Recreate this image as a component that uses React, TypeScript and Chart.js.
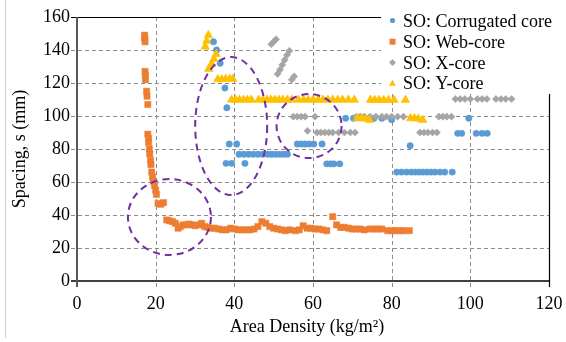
import React, { useEffect, useRef } from "react";
import { Chart, registerables } from "chart.js";

Chart.register(...registerables);

const FONT = '"Liberation Serif", "Times New Roman", serif';

// ---------- data ----------
const xTicks = [0, 20, 40, 60, 80, 100, 120];
const yTicks = [0, 20, 40, 60, 80, 100, 120, 140, 160];

const seriesLabels = ["SO: Corrugated core", "SO: Web-core", "SO: X-core", "SO: Y-core"];
const seriesColors = ["#5B9BD5", "#ED7D31", "#A5A5A5", "#FFC000"];

const corrugatedCore: [number, number][] = [
  [34.7, 145], [35.5, 140], [36.4, 132], [37.6, 117], [38.1, 105],
  [38.7, 83], [40.6, 83],
  [37.9, 71.3], [39.3, 71.3], [42.7, 71.3],
  [41.2, 76.8], [42.4, 76.8], [43.6, 76.8], [44.8, 76.8], [46.0, 76.8], [47.2, 76.8],
  [48.5, 76.8], [49.5, 76.8], [50.5, 76.8], [51.5, 76.8], [52.5, 76.8], [53.5, 76.8],
  [56.0, 83], [57.0, 83], [58.0, 83], [59.0, 83], [60.2, 83], [62.3, 83],
  [63.5, 71], [64.5, 71], [65.3, 71], [66.8, 71],
  [68.3, 98.6], [70.3, 98.6], [75.5, 98.6], [77.5, 98.6], [80.0, 97.8],
  [84.7, 82],
  [81.3, 66], [82.5, 66], [83.8, 66], [85.0, 66], [86.0, 66], [87.0, 66], [88.0, 66],
  [89.0, 66], [90.0, 66], [91.0, 66], [92.3, 66], [93.5, 66], [95.4, 66],
  [99.6, 98.6],
  [96.8, 89.5], [97.8, 89.5], [101.5, 89.5], [103.0, 89.5], [104.3, 89.5],
];

const webCore: [number, number][] = [
  [17.2, 149], [17.2, 147], [17.3, 145],
  [17.3, 127], [17.4, 124.5], [17.4, 122],
  [17.7, 115], [17.8, 112], [18.0, 107],
  [18.0, 89], [18.2, 86.5], [18.2, 84],
  [18.4, 80], [18.5, 77],
  [18.7, 73], [18.8, 70.5],
  [19.0, 66], [19.2, 63], [19.4, 60.5],
  [19.7, 58], [20.0, 55], [20.2, 52.5],
  [20.6, 47], [21.3, 46.5], [22.0, 47.5],
  [22.8, 37], [23.5, 36.5], [24.3, 36], [25.0, 35], [25.7, 32], [26.3, 33], [27.0, 34],
  [27.8, 34], [28.5, 34.5], [29.3, 34], [30.0, 33.5],
  [31.0, 34], [31.7, 35], [32.5, 33], [33.3, 32.5], [34.0, 32],
  [35.0, 32], [36.0, 31.5], [37.0, 31], [38.0, 31], [39.0, 32], [40.0, 31.5],
  [41, 31], [42, 31], [43, 31], [44, 31], [45, 31.5], [46, 33], [47, 36], [48, 35],
  [49, 33], [50, 32], [51, 31.5], [52, 31], [53, 30.5], [54, 31],
  [55.5, 30.5], [56.5, 31], [57.5, 33.5], [58.5, 32], [59.5, 32], [60.5, 31.5],
  [61.5, 31.5], [62.5, 31], [63.5, 30.5],
  [65, 39], [66, 34], [67, 32.5], [68, 32.5], [69, 32], [70, 31.5], [71, 31.5],
  [72, 31.5], [73, 31],
  [74.5, 31.5], [75.5, 31.5], [76.5, 31.5], [77.5, 31.5],
  [79, 30.5], [80, 30.5], [81, 30.5], [82, 30.5], [83, 30.5], [84.5, 30.5],
];

const xCore: [number, number][] = [
  [49.4, 143.5], [50.0, 145], [50.6, 146.5],
  [51.0, 125.5], [51.6, 128], [52.2, 131], [52.8, 134], [53.4, 137], [54.0, 139.5],
  [54.6, 122], [55.2, 124],
  [55, 99.6], [56, 99.6], [57, 99.6], [58, 99.6], [60.5, 99.6],
  [58.6, 91], [61, 90], [62, 90], [63, 90], [64, 90], [65, 90], [66.5, 90], [68, 90],
  [69.5, 90], [70.7, 90],
  [71, 99.6], [72, 99.6], [73, 99.6], [74.5, 99.6], [76, 99.6], [77.5, 99.6],
  [78.7, 99.6], [80, 99.6], [81.5, 99.6], [83, 99.6],
  [92, 99.6], [93, 99.6], [94, 99.6], [95.2, 99.6],
  [87.2, 90], [88.2, 90], [89.2, 90], [90.4, 90], [91.5, 90],
  [96.2, 110.3], [97.4, 110.3], [98.6, 110.3], [100, 110.3], [101.8, 110.3], [103, 110.3],
  [104.2, 110.3], [106.5, 110.3], [107.8, 110.3], [109, 110.3], [110.5, 110.3],
];

const yCore: [number, number][] = [
  [32.6, 142], [33.0, 145.5], [33.4, 149],
  [33.5, 128.5], [34.2, 131.5], [34.8, 134.5], [35.4, 137.5],
  [35.8, 122.2], [36.8, 122.2], [37.8, 122.5], [38.8, 122.5], [39.6, 122.5],
  [39.3, 109.8], [40.3, 109.8], [41.3, 109.8], [42.3, 109.8], [43.3, 109.8], [44.3, 109.8],
  [46.2, 109.8], [47.3, 109.8], [48.3, 109.8], [49.3, 109.8], [50.3, 109.8], [51.3, 109.8],
  [52.3, 109.8], [53.5, 109.8], [54.6, 109.8],
  [56.3, 109.8], [57.6, 109.8], [58.8, 109.8], [60.0, 109.8], [61.3, 109.8], [62.5, 109.8],
  [63.8, 109.8], [65.0, 109.8], [66.3, 109.8], [67.5, 109.8], [69.0, 109.8], [70.5, 109.8],
  [74.6, 109.7], [75.7, 109.7], [76.8, 109.7], [78.0, 109.7], [79.2, 109.7], [80.6, 109.7],
  [83.5, 109.7],
  [71.2, 98.6], [72.3, 98.6], [73.4, 98.4], [74.4, 97.6],
  [84.8, 98.6], [85.8, 98.6], [86.8, 98.4], [87.9, 97.6],
];

// dashed ellipse annotations (centre and radii in data units)
const ellipseCx = [23.5, 39.2, 59.0];
const ellipseCy = [38.8, 93.9, 93.9];
const ellipseRx = [10.55, 9.15, 8.26];
const ellipseRy = [23.0, 41.8, 19.4];

const toPoints = (arr: [number, number][]) => arr.map(([x, y]) => ({ x, y }));

const framePlugin = {
  id: "frame",
  beforeDatasetsDraw(chart: any) {
    const { ctx, chartArea: a, scales } = chart;
    const xs = scales.x;
    const ys = scales.y;
    const line = (x1: number, y1: number, x2: number, y2: number) => {
      ctx.beginPath();
      ctx.moveTo(x1, y1);
      ctx.lineTo(x2, y2);
      ctx.stroke();
    };
    ctx.save();
    // outer frame line
    ctx.strokeStyle = "#d0d0d0";
    ctx.lineWidth = 1;
    line(5.5, 0, 5.5, 338);
    // grid
    ctx.strokeStyle = "#8c8c8c";
    ctx.lineWidth = 1;
    ctx.setLineDash([4, 3]);
    for (const v of yTicks) {
      if (v <= 0 || v >= 160) continue;
      const py = Math.round(ys.getPixelForValue(v)) + 0.5;
      line(a.left - 6, py, a.right, py);
    }
    for (const v of xTicks) {
      if (v <= 0 || v >= 120) continue;
      const px = Math.round(xs.getPixelForValue(v)) + 0.5;
      line(px, a.top, px, a.bottom + 6);
    }
    ctx.setLineDash([]);
    // top and right borders
    ctx.strokeStyle = "#000";
    ctx.lineWidth = 1.2;
    const top = Math.round(a.top) + 0.5;
    const right = Math.round(a.right) + 0.5;
    line(a.left - 6, top, a.right, top);
    line(right, a.top, right, a.bottom + 6);
    // x axis
    ctx.lineWidth = 1.5;
    line(a.left - 6, a.bottom, a.right, a.bottom);
    // y axis
    ctx.strokeStyle = "#595959";
    ctx.lineWidth = 2;
    line(a.left, a.top, a.left, a.bottom + 6);
    // legend background
    ctx.fillStyle = "#ffffff";
    ctx.fillRect(381, 0, 185, 94);
    ctx.restore();
  },
  afterDatasetsDraw(chart: any) {
    const { ctx, scales, chartArea: a } = chart;
    const xs = scales.x;
    const ys = scales.y;
    ctx.save();
    // ellipses
    ctx.strokeStyle = "#7030A0";
    ctx.lineWidth = 2;
    ctx.setLineDash([7, 5]);
    for (let i = 0; i < ellipseCx.length; i++) {
      const cx = xs.getPixelForValue(ellipseCx[i]);
      const cy = ys.getPixelForValue(ellipseCy[i]);
      const rx = Math.abs(xs.getPixelForValue(ellipseCx[i] + ellipseRx[i]) - cx);
      const ry = Math.abs(ys.getPixelForValue(ellipseCy[i] + ellipseRy[i]) - cy);
      ctx.beginPath();
      ctx.ellipse(cx, cy, rx, ry, 0, 0, Math.PI * 2);
      ctx.stroke();
    }
    ctx.setLineDash([]);
    // legend
    const lx = 392.5;
    const textX = 403;
    const baselines = [26.5, 47.7, 68.5, 89.3];
    ctx.font = `18px ${FONT}`;
    ctx.textAlign = "left";
    ctx.textBaseline = "alphabetic";
    for (let i = 0; i < seriesLabels.length; i++) {
      const my = baselines[i] - 6;
      ctx.fillStyle = seriesColors[i];
      ctx.beginPath();
      if (i === 0) {
        ctx.arc(lx, my, 2.6, 0, Math.PI * 2);
      } else if (i === 1) {
        ctx.rect(lx - 3, my - 3, 6, 6);
      } else if (i === 2) {
        ctx.moveTo(lx, my - 3.4);
        ctx.lineTo(lx + 3.4, my);
        ctx.lineTo(lx, my + 3.4);
        ctx.lineTo(lx - 3.4, my);
        ctx.closePath();
      } else {
        ctx.moveTo(lx, my - 3.6);
        ctx.lineTo(lx + 3.4, my + 2.4);
        ctx.lineTo(lx - 3.4, my + 2.4);
        ctx.closePath();
      }
      ctx.fill();
      ctx.fillStyle = "#000";
      ctx.fillText(seriesLabels[i], textX, baselines[i]);
    }
    // axis titles
    ctx.fillStyle = "#000";
    ctx.textAlign = "center";
    ctx.fillText("Area Density (kg/m\u00B2)", (a.left + a.right) / 2 - 6, 332);
    ctx.translate(25, (a.top + a.bottom) / 2);
    ctx.rotate(-Math.PI / 2);
    ctx.fillText("Spacing, s (mm)", 0, 0);
    ctx.restore();
  },
};

export default function App() {
  const ref = useRef<HTMLCanvasElement | null>(null);
  useEffect(() => {
    if (!ref.current) return;
    const ds = (i: number, data: [number, number][], style: string, r: number, order: number) => ({
      label: seriesLabels[i],
      data: toPoints(data),
      pointStyle: style,
      pointRadius: r,
      pointHoverRadius: r,
      pointBackgroundColor: seriesColors[i],
      pointBorderColor: seriesColors[i],
      pointBorderWidth: 0.5,
      showLine: false,
      order,
    });
    const chart = new Chart(ref.current, {
      type: "scatter",
      data: {
        datasets: [
          ds(0, corrugatedCore, "circle", 3.2, 3),
          ds(1, webCore, "rect", 4.4, 2),
          ds(2, xCore, "rectRot", 3.6, 1),
          ds(3, yCore, "triangle", 5, 0),
        ] as any,
      },
      options: {
        responsive: false,
        devicePixelRatio: 1,
        animation: false,
        layout: { padding: { top: 17, right: 17, left: 0, bottom: 0 } },
        plugins: { legend: { display: false }, tooltip: { enabled: false } },
        scales: {
          x: {
            type: "linear",
            min: 0,
            max: 120,
            afterFit: (s: any) => {
              s.height = 61;
              s.paddingLeft = 0;
              s.paddingRight = 0;
            },
            afterBuildTicks: (s: any) => { s.ticks = xTicks.map((v) => ({ value: v })); },
            grid: { display: false, drawTicks: false },
            border: { display: false },
            ticks: { font: { family: FONT, size: 18 }, color: "#000", padding: 12, maxRotation: 0 },
          },
          y: {
            type: "linear",
            min: 0,
            max: 160,
            afterFit: (s: any) => {
              s.width = 77;
              s.paddingTop = 0;
              s.paddingBottom = 0;
            },
            afterBuildTicks: (s: any) => { s.ticks = yTicks.map((v) => ({ value: v })); },
            grid: { display: false, drawTicks: false },
            border: { display: false },
            ticks: { font: { family: FONT, size: 18 }, color: "#000", padding: 7 },
          },
        },
      } as any,
      plugins: [framePlugin],
    });
    return () => chart.destroy();
  }, []);
  return (
    <div style={{ position: "absolute", left: 0, top: 0, width: 566, height: 342, background: "#fff" }}>
      <canvas ref={ref} width={566} height={342} />
    </div>
  );
}
